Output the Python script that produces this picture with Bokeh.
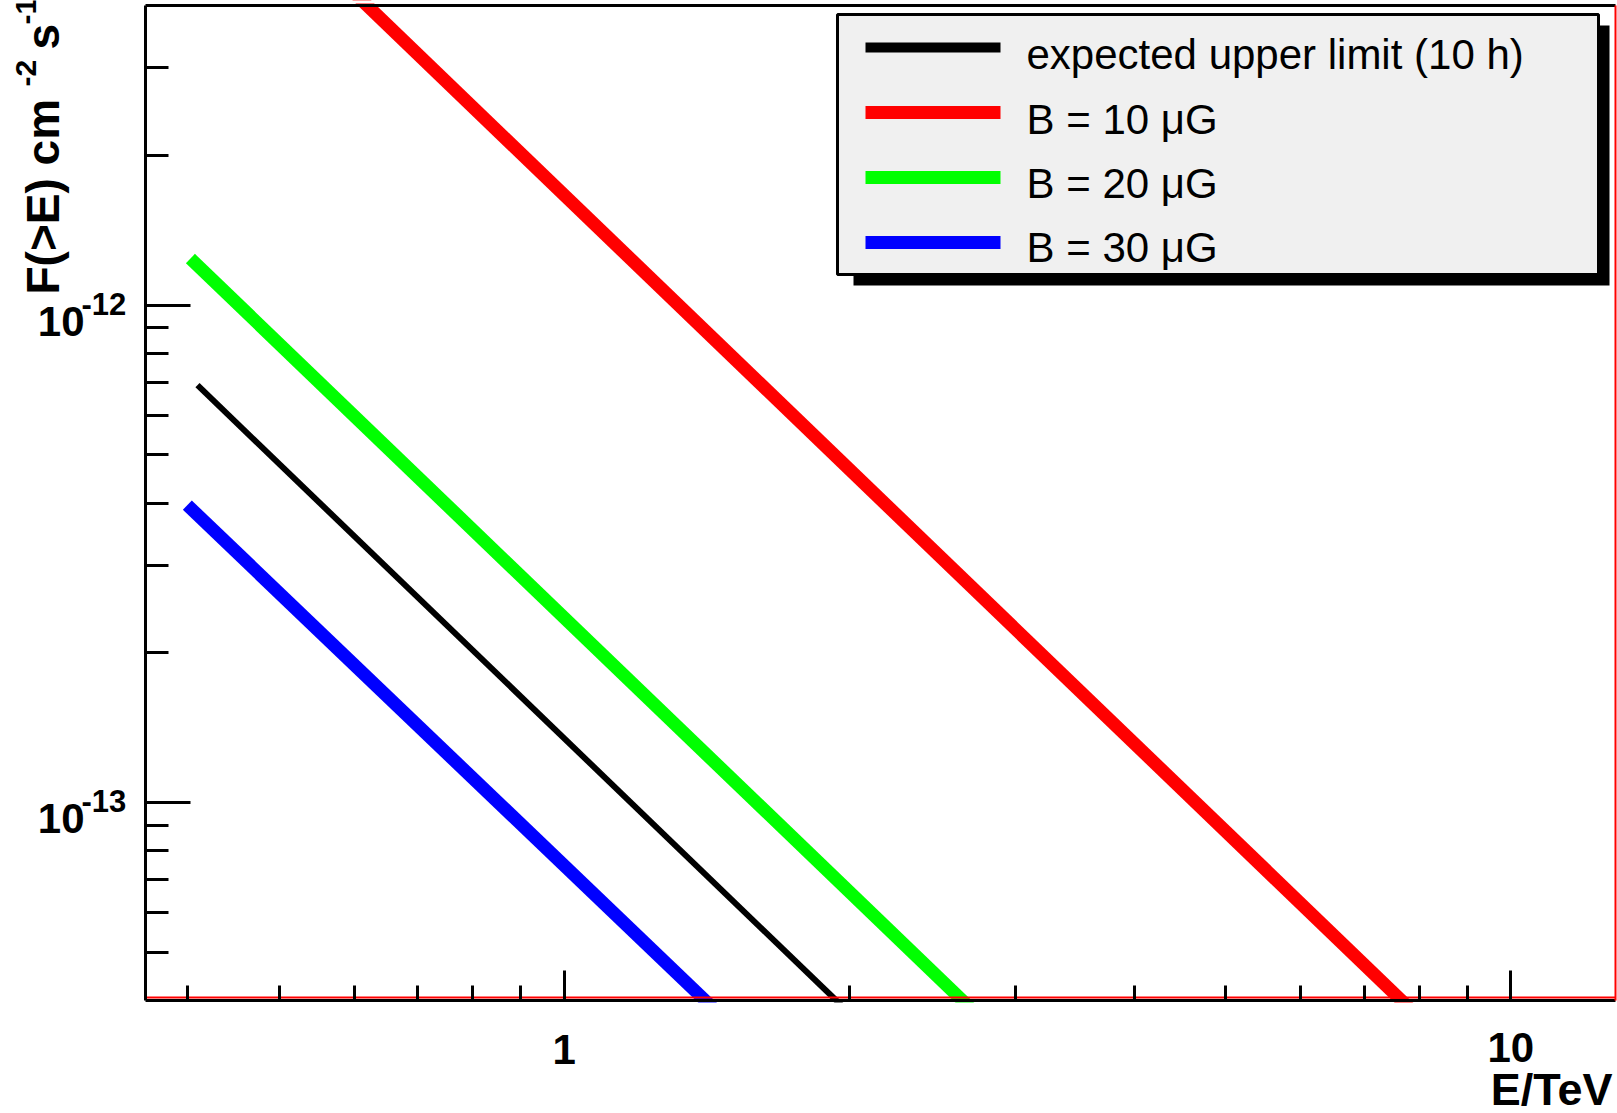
import math

from bokeh.plotting import figure
from bokeh.models import (Range1d, FixedTicker, CustomJSTickFormatter, Label,
                          BoxAnnotation, LogAxis)
from bokeh.embed import file_html
from bokeh.resources import INLINE

# Integral flux F(>E) in cm^-2 s^-1 versus energy E in TeV, end points of each curve
e_limit = [0.41, 2.0]
f_limit = [6.9e-13, 3.78e-14]

e_b10 = [0.60, 8.0]
f_b10 = [4.24e-12, 3.7e-14]

e_b20 = [0.403, 2.75]
f_b20 = [1.24e-12, 3.7e-14]

e_b30 = [0.40, 1.45]
f_b30 = [3.96e-13, 3.8e-14]

series_labels = ["expected upper limit (10 h)", "B = 10 \u03bcG", "B = 20 \u03bcG", "B = 30 \u03bcG"]
series_colors = ["#000000", "#ff0000", "#00ff00", "#0000ff"]

# axis ticks
x_major = [1, 10]
x_major_labels = ["1", "10"]
x_minor = [0.4, 0.5, 0.6, 0.7, 0.8, 0.9, 2, 3, 4, 5, 6, 7, 8, 9]
y_major = [1e-13, 1e-12]
y_major_exponents = ["-13", "-12"]
y_minor = [5e-14, 6e-14, 7e-14, 8e-14, 9e-14,
           2e-13, 3e-13, 4e-13, 5e-13, 6e-13, 7e-13, 8e-13, 9e-13,
           2e-12, 3e-12]

# visible axis box (data limits) and where it sits on the canvas (pixels)
E_MIN, E_MAX = 0.3613, 12.9
F_MIN, F_MAX = 4e-14, 4e-12
W, H = 1617, 1113
BOX_L, BOX_R, BOX_T, BOX_B = 145, 1615, 5, 1000

dx = (math.log10(E_MAX) - math.log10(E_MIN)) / (BOX_R - BOX_L)
dy = (math.log10(F_MAX) - math.log10(F_MIN)) / (BOX_B - BOX_T)
x_range = Range1d(10 ** (math.log10(E_MIN) - BOX_L * dx), 10 ** (math.log10(E_MAX) + (W - BOX_R) * dx))
y_range = Range1d(10 ** (math.log10(F_MIN) - (H - BOX_B) * dy), 10 ** (math.log10(F_MAX) + BOX_T * dy))

FONT = "Liberation Sans"


def shift(size):
    # labels are centred on their anchor; move the anchor so the baseline lands where asked
    return 0.37 * size


p = figure(width=W, height=H, x_axis_type="log", y_axis_type="log",
           x_range=x_range, y_range=y_range,
           output_backend="svg", toolbar_location=None,
           min_border=0)
p.background_fill_color = "white"
p.border_fill_color = "white"
p.outline_line_color = None
p.grid.visible = False

blank = CustomJSTickFormatter(code="return ''")


def style_axis(ax, line_color, line_width, tick_in, minor_in):
    ax.formatter = blank
    ax.axis_line_color = line_color
    ax.axis_line_width = line_width
    ax.major_tick_in = tick_in
    ax.major_tick_out = 0
    ax.minor_tick_in = minor_in
    ax.minor_tick_out = 0
    ax.major_tick_line_width = 3
    ax.minor_tick_line_width = 3
    ax.major_label_text_font_size = "1px"
    ax.major_label_standoff = 0
    if tick_in == 0:
        ax.major_tick_line_color = None
        ax.minor_tick_line_color = None


# thin red frame line just inside the bottom axis
red_bottom = p.xaxis[0]
red_bottom.ticker = FixedTicker(ticks=[])
red_bottom.fixed_location = 10 ** (math.log10(F_MIN) + 3 * dy)
red_bottom.bounds = (E_MIN, E_MAX)
style_axis(red_bottom, "#ff0000", 2, 0, 0)

xa = LogAxis(ticker=FixedTicker(ticks=x_major, minor_ticks=x_minor),
             fixed_location=F_MIN, bounds=(E_MIN, E_MAX))
style_axis(xa, "black", 3, 30, 15)
p.add_layout(xa, "below")

ya = p.yaxis[0]
ya.ticker = FixedTicker(ticks=y_major, minor_ticks=y_minor)
ya.fixed_location = E_MIN
ya.bounds = (F_MIN, F_MAX)
style_axis(ya, "black", 3, 45, 23)

top = LogAxis(ticker=FixedTicker(ticks=[]), fixed_location=F_MAX, bounds=(E_MIN, E_MAX))
style_axis(top, "black", 3, 0, 0)
p.add_layout(top, "above")

right = LogAxis(ticker=FixedTicker(ticks=[]), fixed_location=E_MAX, bounds=(F_MIN, F_MAX))
style_axis(right, "#ff0000", 2, 0, 0)
p.add_layout(right, "right")

# curves
p.line(e_b10, f_b10, line_color=series_colors[1], line_width=13, line_cap="butt")
p.line(e_b20, f_b20, line_color=series_colors[2], line_width=13, line_cap="butt")
p.line(e_limit, f_limit, line_color=series_colors[0], line_width=6, line_cap="butt")
p.line(e_b30, f_b30, line_color=series_colors[3], line_width=13, line_cap="butt")

# white margins outside the axis box cut the curves flat at its edges
p.add_layout(BoxAnnotation(top=10 ** (math.log10(F_MIN) - 2 * dy),
                           fill_color="white", fill_alpha=1.0, line_alpha=0))
p.add_layout(BoxAnnotation(bottom=10 ** (math.log10(F_MAX) + 2 * dy),
                           fill_color="white", fill_alpha=1.0, line_alpha=0))

# tick labels
for xv, txt, base in zip(x_major, x_major_labels, [1065, 1063]):
    p.add_layout(Label(x=xv, y=base - shift(42), x_units="data", y_units="canvas", text=txt,
                       text_align="center", text_baseline="alphabetic",
                       text_font=FONT, text_font_style="bold",
                       text_font_size="42px", text_color="black"))
for yv, ex in zip(y_major, y_major_exponents):
    p.add_layout(Label(x=84, y=yv, x_units="canvas", y_units="data",
                       y_offset=-(32 - shift(42)),
                       text="10", text_align="right", text_baseline="alphabetic",
                       text_font=FONT, text_font_style="bold",
                       text_font_size="42px", text_color="black"))
    p.add_layout(Label(x=81, y=yv, x_units="canvas", y_units="data",
                       y_offset=-(10 - shift(31)),
                       text=ex, text_align="left", text_baseline="alphabetic",
                       text_font=FONT, text_font_style="bold",
                       text_font_size="31px", text_color="black"))

# axis titles
p.add_layout(Label(x=1612, y=1106 - shift(45), x_units="canvas", y_units="canvas", text="E/TeV",
                   text_align="right", text_baseline="alphabetic",
                   text_font=FONT, text_font_style="bold",
                   text_font_size="45px", text_color="black"))

rot = math.pi / 2
for txt, bx, by, size in [("F(>E) cm", 60, 294, 46), ("-2", 37, 86, 30),
                          ("s", 60, 49, 46), ("-1", 37, 24, 30)]:
    p.add_layout(Label(x=bx - shift(size), y=by, x_units="canvas", y_units="canvas", text=txt,
                       angle=rot, text_align="left", text_baseline="alphabetic",
                       text_font=FONT, text_font_style="bold",
                       text_font_size=f"{size}px", text_color="black"))

# legend with drop shadow
canvas_box = dict(left_units="canvas", right_units="canvas",
                  top_units="canvas", bottom_units="canvas")
p.add_layout(BoxAnnotation(left=853, right=1609, top=25, bottom=285, **canvas_box,
                           fill_color="black", fill_alpha=1.0, line_alpha=0))
p.add_layout(BoxAnnotation(left=837, right=1598, top=14, bottom=274, **canvas_box,
                           fill_color="#f0f0f0", fill_alpha=1.0,
                           line_color="black", line_alpha=1.0, line_width=3))
row_centers = [47, 112, 177, 242]
row_baselines = [70, 135, 199, 263]
sample_widths = [10, 13, 13, 13]
for lab, col, yc, yb, w in zip(series_labels, series_colors, row_centers,
                               row_baselines, sample_widths):
    p.add_layout(BoxAnnotation(left=865, right=1000, top=yc - w / 2, bottom=yc + w / 2,
                               **canvas_box, fill_color=col, fill_alpha=1.0, line_alpha=0))
    p.add_layout(Label(x=1026, y=yb - shift(42), x_units="canvas", y_units="canvas", text=lab,
                       text_align="left", text_baseline="alphabetic",
                       text_font=FONT, text_font_size="42px", text_color="black"))

open("out.html", "w").write(file_html(p, INLINE))
